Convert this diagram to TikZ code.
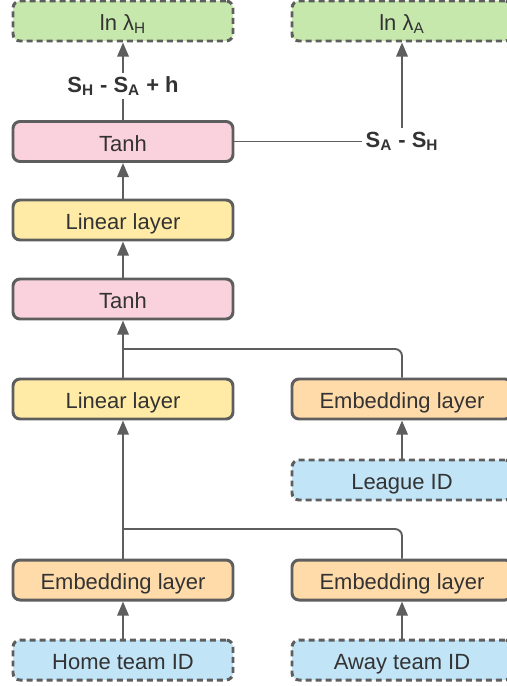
\documentclass[tikz,border=0pt]{standalone}
\usepackage{fontspec}
\setmainfont{Liberation Sans}
\usetikzlibrary{arrows.meta}

\definecolor{edgegray}{HTML}{5E5E5E}
\definecolor{txtgray}{HTML}{333333}
\definecolor{outgreen}{HTML}{C7E8AC}
\definecolor{tanhpink}{HTML}{FAD2DE}
\definecolor{linyellow}{HTML}{FFEBA6}
\definecolor{emborange}{HTML}{FFDBA9}
\definecolor{inblue}{HTML}{C1E4F7}

\tikzset{
    layer/.style={draw=edgegray, line width=1.7pt, rounded corners=4pt,
        minimum width=4.4cm, minimum height=0.8cm, inner sep=0pt,
        text height=11pt, text depth=0pt,
        text=txtgray, font=\fontsize{12.5}{15}\selectfont},
    io/.style={layer, dash pattern=on 3.4pt off 2.3pt},
    lbl/.style={text=txtgray, font=\fontsize{12.5}{15}\selectfont\bfseries, inner sep=2pt},
    wire/.style={draw=edgegray, line width=1.1pt},
    feed/.style={wire, -{Triangle[length=8pt,width=6.5pt]}},
}

\begin{document}
\begin{tikzpicture}
    \useasboundingbox (0,0) rectangle (10.12,-13.72);

    % Outputs
    \node[io, fill=outgreen] (lnH) at (2.46,-0.42) {ln λ\textsubscript{H}};
    \node[io, fill=outgreen] (lnA) at (8.04,-0.42) {ln λ\textsubscript{A}};

    % Score labels
    \node[lbl] (sh) at (2.46,-1.72) {S\textsubscript{H} - S\textsubscript{A} + h};
    \node[lbl] (sa) at (8.04,-2.83) {S\textsubscript{A} - S\textsubscript{H}};

    % Layers
    \node[layer, fill=tanhpink] (tanhA) at (2.46,-2.83) {Tanh};
    \node[layer, fill=linyellow] (linA) at (2.46,-4.40) {Linear layer};
    \node[layer, fill=tanhpink] (tanhB) at (2.46,-5.98) {Tanh};
    \node[layer, fill=linyellow] (linB) at (2.46,-7.98) {Linear layer};
    \node[layer, fill=emborange] (embLeague) at (8.04,-7.98) {Embedding layer};
    \node[layer, fill=emborange] (embHome) at (2.46,-11.60) {Embedding layer};
    \node[layer, fill=emborange] (embAway) at (8.04,-11.60) {Embedding layer};

    % Inputs
    \node[io, fill=inblue] (league) at (8.04,-9.60) {League ID};
    \node[io, fill=inblue] (home) at (2.46,-13.20) {Home team ID};
    \node[io, fill=inblue] (away) at (8.04,-13.20) {Away team ID};

    % Merge points
    \coordinate (mergeTop) at (2.46,-6.98);
    \coordinate (mergeLow) at (2.46,-10.58);

    % Connections
    \draw[feed] (home) -- (embHome);
    \draw[feed] (away) -- (embAway);
    \draw[feed] (league) -- (embLeague);
    \draw[wire, rounded corners=4pt] (embAway.north) |- (mergeLow);
    \draw[feed] (embHome) -- (linB);
    \draw[wire, rounded corners=4pt] (embLeague.north) |- (mergeTop);
    \draw[feed] (linB) -- (tanhB);
    \draw[feed] (tanhB) -- (linA);
    \draw[feed] (linA) -- (tanhA);
    \draw[wire] (tanhA) -- (sh);
    \draw[feed] (sh) -- (lnH);
    \draw[wire] (tanhA.east) -- (sa.west);
    \draw[feed] (sa) -- (lnA);
\end{tikzpicture}
\end{document}
